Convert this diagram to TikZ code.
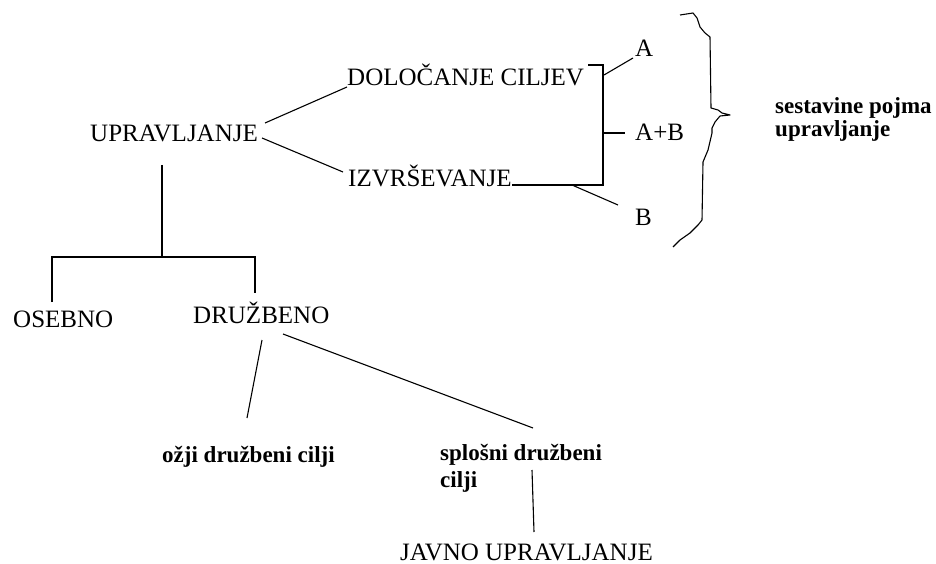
\documentclass[tikz,border=0pt]{standalone}
\usepackage{fontspec}
\setmainfont{Liberation Serif}
\begin{document}
\begin{tikzpicture}[x=1pt,y=-1pt,
  lbl/.style={inner sep=0pt,anchor=base west,font=\fontsize{25}{28}\selectfont},
  blbl/.style={inner sep=0pt,anchor=base west,align=left,font=\fontsize{23}{26}\selectfont\bfseries},
  conn/.style={line width=1.1pt,black}]
\useasboundingbox (0,0) rectangle (936,564);
% nodes
\node[lbl] (upr) at (90,142) {UPRAVLJANJE};
\node[lbl] (dol) at (347,86) {DOLOČANJE CILJEV};
\node[lbl] (izv) at (348,186) {IZVRŠEVANJE};
\node[lbl] (a) at (635,57) {A};
\node[lbl] (ab) at (635,141) {A+B};
\node[lbl] (b) at (635,225) {B};
\node[blbl,font=\fontsize{23}{23}\selectfont\bfseries] (ses) at (775,137) {sestavine pojma\\upravljanje};
\node[lbl] (ose) at (13,327) {OSEBNO};
\node[lbl] (dru) at (193,323) {DRUŽBENO};
\node[blbl] (ozji) at (162,462) {ožji družbeni cilji};
\node[blbl,font=\fontsize{23}{27}\selectfont\bfseries] (splo) at (440,487) {splošni družbeni\\cilji};
\node[lbl,text depth=0pt] (jav) at (400,560) {JAVNO UPRAVLJANJE};
% connector end points
\coordinate (uprNE) at (265,123);
\coordinate (uprSE) at (262,138);
\coordinate (dolW) at (347,87);
\coordinate (izvW) at (343,172);
\coordinate (dolE) at (588,65);
\coordinate (brT) at (603,65);
\coordinate (brB) at (603,185);
\coordinate (izvE) at (512,185);
\coordinate (brA) at (604,75);
\coordinate (aW) at (633,58);
\coordinate (brAB) at (604,133);
\coordinate (abW) at (625,133);
\coordinate (brBB) at (572,185);
\coordinate (bW) at (618,205);
\coordinate (uprS) at (162,165);
\coordinate (fork) at (162,257);
\coordinate (forkL) at (52,257);
\coordinate (forkR) at (255,257);
\coordinate (oseN) at (52,302);
\coordinate (druN) at (255,293);
\coordinate (druS1) at (262,340);
\coordinate (ozjiN) at (247,418);
\coordinate (druS2) at (283,334);
\coordinate (sploN) at (533,428);
\coordinate (sploS) at (532,470);
\coordinate (javN) at (534,532);
% connectors
\draw[conn] (uprNE) -- (dolW);
\draw[conn] (uprSE) -- (izvW);
\draw[conn] (dolE) -- (brT) -- (brB) -- (izvE);
\draw[conn] (brA) -- (aW);
\draw[conn] (brAB) -- (abW);
\draw[conn] (brBB) -- (bW);
\draw[conn] (uprS) -- (fork);
\draw[conn] (oseN) -- (forkL) -- (forkR) -- (druN);
\draw[conn] (druS1) -- (ozjiN);
\draw[conn] (druS2) -- (sploN);
\draw[conn] (sploS) -- (javN);
% hand-drawn brace
\draw[conn,line join=round] (680,15) -- (693,13) -- (697,18) -- (700,27) -- (705,33) -- (710,37)
  -- (711,108) -- (718,110) -- (722,113) -- (730,115) -- (720,116) -- (715,122) -- (712,128)
  -- (712,133) -- (708,150) -- (703,162) -- (702,220) -- (698,225) -- (690,233) -- (680,240) -- (673,247);
\end{tikzpicture}
\end{document}
